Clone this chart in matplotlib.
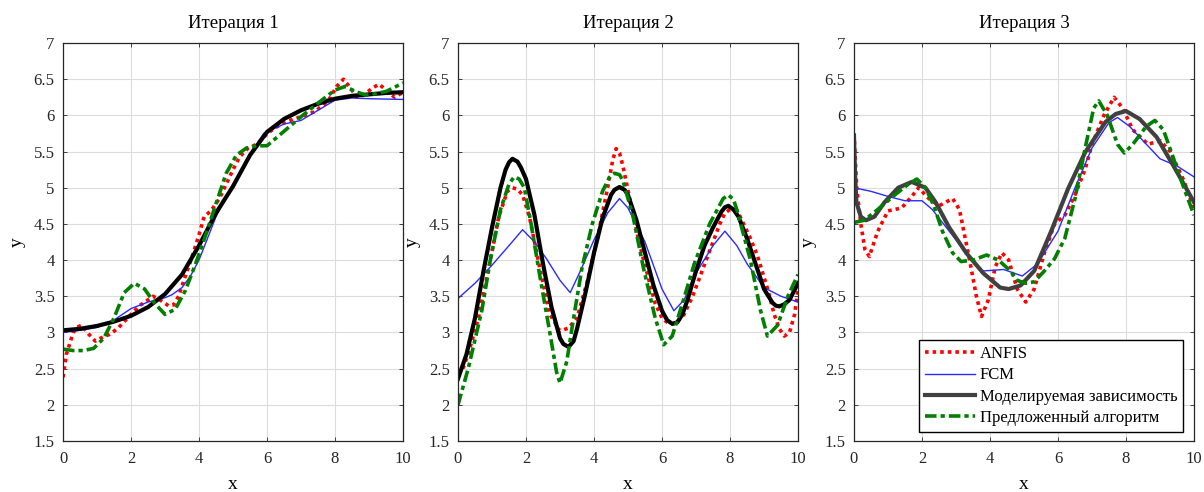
import numpy as np
import matplotlib
matplotlib.use("Agg")
import matplotlib.pyplot as plt

plt.rcParams['font.family'] = ['Liberation Serif', 'DejaVu Serif']

titles = ["Итерация 1", "Итерация 2", "Итерация 3"]
legend_labels = ["ANFIS", "FCM", "Моделируемая зависимость", "Предложенный алгоритм"]
y_ticks = [1.5, 2, 2.5, 3, 3.5, 4, 4.5, 5, 5.5, 6, 6.5, 7]
x_ticks = [0, 2, 4, 6, 8, 10]

# ---------- Iteration 1 ----------
p1_model_x = [0, 0.5, 1, 1.5, 2, 2.5, 3, 3.5, 4, 4.5, 5, 5.5, 6, 6.5, 7, 7.5, 8, 8.5, 9, 9.5, 10]
p1_model_y = [3.03, 3.05, 3.09, 3.15, 3.23, 3.35, 3.53, 3.80, 4.20, 4.65, 5.02, 5.45, 5.77, 5.95,
              6.07, 6.16, 6.23, 6.27, 6.29, 6.31, 6.32]

p1_fcm_x = [0, 0.5, 1, 1.4, 2, 2.5, 3, 3.2, 3.5, 3.75, 4, 4.25, 4.5, 5, 5.5, 5.9, 6.5, 7, 7.5,
            8, 8.5, 9, 10]
p1_fcm_y = [3.00, 3.03, 3.07, 3.14, 3.33, 3.42, 3.48, 3.52, 3.62, 3.78, 4.0, 4.3, 4.6, 5.05,
            5.45, 5.75, 5.88, 5.93, 6.07, 6.21, 6.24, 6.23, 6.22]

p1_anfis_x = [0, 0.1, 0.3, 0.45, 0.55, 0.75, 0.95, 1.1, 1.35, 1.6, 1.8, 2.0, 2.25, 2.5, 2.65,
              2.85, 3.1, 3.25, 3.4, 3.6, 3.8, 4.0, 4.15, 4.35, 4.6, 4.8, 5.0, 5.2, 5.45, 5.7,
              5.9, 6.2, 6.6, 7.0, 7.4, 7.8, 8.05, 8.25, 8.45, 8.65, 8.85, 9.1, 9.3, 9.5, 9.75, 10]
p1_anfis_y = [2.38, 2.70, 3.00, 3.08, 3.10, 2.98, 2.88, 2.92, 2.97, 3.05, 3.15, 3.25, 3.37, 3.45,
              3.50, 3.45, 3.37, 3.38, 3.50, 3.78, 4.05, 4.35, 4.60, 4.68, 4.85, 5.05, 5.25, 5.43,
              5.55, 5.60, 5.70, 5.82, 5.92, 5.98, 6.05, 6.20, 6.40, 6.50, 6.38, 6.25, 6.28, 6.38,
              6.43, 6.35, 6.25, 6.32]

p1_prop_x = [0, 0.3, 0.6, 0.9, 1.2, 1.5, 1.8, 2.1, 2.4, 2.7, 3.0, 3.3, 3.6, 3.9, 4.2, 4.5, 4.8,
             5.1, 5.4, 5.7, 6.0, 6.5, 7.0, 7.5, 8.0, 8.3, 8.6, 8.9, 9.2, 9.5, 9.8, 10]
p1_prop_y = [2.77, 2.75, 2.75, 2.78, 2.92, 3.20, 3.55, 3.68, 3.60, 3.40, 3.25, 3.32, 3.58, 3.95,
             4.35, 4.78, 5.20, 5.45, 5.55, 5.58, 5.58, 5.78, 5.98, 6.17, 6.35, 6.40, 6.33, 6.28,
             6.30, 6.33, 6.40, 6.45]

# ---------- Iteration 2 ----------
p2_model_x = [0, 0.25, 0.5, 0.75, 1, 1.25, 1.4, 1.5, 1.6, 1.75, 1.85, 2, 2.25, 2.5, 2.75, 3,
              3.1, 3.25, 3.4, 3.5, 3.75, 4, 4.25, 4.5, 4.6, 4.75, 4.9, 5, 5.25, 5.5, 5.75, 6,
              6.15, 6.3, 6.45, 6.6, 6.75, 7, 7.25, 7.5, 7.75, 7.85, 7.95, 8.1, 8.25, 8.5, 8.75,
              9, 9.25, 9.35, 9.45, 9.6, 9.75, 10]
p2_model_y = [2.36, 2.70, 3.20, 3.85, 4.45, 5.00, 5.25, 5.35, 5.40, 5.36, 5.28, 5.12, 4.62,
              3.95, 3.35, 2.92, 2.84, 2.80, 2.88, 3.05, 3.55, 4.10, 4.58, 4.90, 4.97, 5.01,
              4.97, 4.90, 4.55, 4.10, 3.65, 3.30, 3.17, 3.12, 3.14, 3.25, 3.45, 3.85, 4.20,
              4.45, 4.67, 4.73, 4.75, 4.70, 4.60, 4.30, 3.95, 3.60, 3.41, 3.37, 3.36, 3.39,
              3.45, 3.68]

p2_fcm_x = [0, 0.5, 1.0, 1.5, 1.9, 2.25, 2.6, 3.0, 3.3, 3.6, 4.0, 4.4, 4.75, 5.0, 5.5, 6.0,
            6.35, 6.65, 7.0, 7.5, 7.85, 8.2, 8.5, 9.0, 9.5, 10]
p2_fcm_y = [3.47, 3.68, 3.93, 4.20, 4.42, 4.25, 4.02, 3.72, 3.55, 3.85, 4.28, 4.65, 4.85, 4.72,
            4.25, 3.60, 3.30, 3.45, 3.82, 4.20, 4.40, 4.20, 3.95, 3.62, 3.50, 3.42]

p2_anfis_x = [0, 0.1, 0.3, 0.6, 0.95, 1.2, 1.45, 1.6, 1.75, 1.9, 2.1, 2.4, 2.7, 3.0, 3.25, 3.5,
              3.8, 4.1, 4.4, 4.55, 4.65, 4.75, 4.85, 5.05, 5.35, 5.6, 5.8, 6.0, 6.2, 6.4, 6.65,
              6.9, 7.3, 7.7, 7.85, 8.0, 8.15, 8.3, 8.6, 8.8, 9.1, 9.3, 9.45, 9.6, 9.75, 9.9, 10]
p2_anfis_y = [2.47, 2.45, 2.70, 3.20, 4.00, 4.60, 4.95, 5.00, 4.98, 4.90, 4.60, 3.90, 3.25,
              3.02, 3.06, 3.20, 3.70, 4.30, 5.00, 5.38, 5.54, 5.48, 5.30, 4.85, 4.20, 3.75, 3.40,
              3.20, 3.12, 3.12, 3.25, 3.50, 4.00, 4.50, 4.65, 4.70, 4.68, 4.60, 4.30, 4.07, 3.61,
              3.25, 3.05, 2.95, 3.00, 3.25, 3.60]

p2_prop_x = [0, 0.3, 0.7, 0.95, 1.25, 1.5, 1.65, 1.8, 1.95, 2.15, 2.4, 2.7, 2.9, 3.0, 3.2, 3.4,
             3.65, 3.95, 4.25, 4.45, 4.6, 4.75, 4.85, 5.15, 5.45, 5.8, 6.05, 6.3, 6.6, 6.95,
             7.4, 7.8, 7.95, 8.1, 8.2, 8.6, 8.9, 9.1, 9.4, 9.7, 10]
p2_prop_y = [2.00, 2.50, 3.30, 4.00, 4.70, 5.05, 5.15, 5.12, 5.00, 4.50, 3.80, 3.00, 2.45, 2.30,
             2.60, 3.20, 3.90, 4.50, 4.95, 5.14, 5.20, 5.18, 5.10, 4.60, 3.90, 3.20, 2.83, 2.95,
             3.40, 3.95, 4.50, 4.85, 4.90, 4.84, 4.70, 4.00, 3.30, 2.95, 3.10, 3.50, 3.80]

# ---------- Iteration 3 ----------
p3_model_x = [0, 0.03, 0.07, 0.2, 0.35, 0.6, 0.9, 1.3, 1.7, 2.1, 2.4, 2.8, 3.3, 3.8, 4.3, 4.55,
              4.9, 5.3, 5.8, 6.3, 6.8, 7.4, 7.7, 8.0, 8.4, 8.9, 9.4, 10]
p3_model_y = [5.72, 5.20, 4.80, 4.60, 4.55, 4.60, 4.80, 5.00, 5.08, 5.00, 4.80, 4.45, 4.10, 3.82,
              3.62, 3.60, 3.65, 3.85, 4.40, 4.99, 5.49, 5.91, 6.02, 6.06, 5.95, 5.70, 5.30, 4.80]

p3_fcm_x = [0, 0.5, 1.0, 1.5, 2.0, 2.3, 2.8, 3.3, 3.8, 4.4, 4.95, 5.4, 6.0, 6.5, 7.0, 7.5, 7.75,
            8.1, 8.6, 9.0, 9.5, 10]
p3_fcm_y = [5.00, 4.95, 4.88, 4.82, 4.82, 4.70, 4.40, 4.10, 3.85, 3.87, 3.78, 3.95, 4.40, 5.00,
            5.55, 5.90, 5.97, 5.85, 5.60, 5.40, 5.30, 5.15]

p3_anfis_x = [0, 0.08, 0.2, 0.32, 0.45, 0.7, 1.0, 1.4, 1.7, 1.9, 2.2, 2.5, 2.9, 3.1, 3.4, 3.6,
              3.75, 3.95, 4.15, 4.35, 4.55, 4.8, 5.05, 5.3, 5.6, 5.9, 6.2, 6.5, 6.8, 7.0, 7.35,
              7.65, 7.9, 8.2, 8.65, 9.0, 9.3, 9.7, 10]
p3_anfis_y = [5.75, 5.00, 4.50, 4.15, 4.05, 4.40, 4.68, 4.72, 4.88, 5.00, 4.85, 4.75, 4.85, 4.70,
              4.00, 3.50, 3.22, 3.45, 3.90, 4.10, 4.00, 3.60, 3.42, 3.60, 4.10, 4.50, 4.62, 4.90,
              5.26, 5.60, 6.00, 6.25, 6.10, 5.80, 5.60, 5.65, 5.50, 5.10, 4.70]

p3_prop_x = [0, 0.3, 0.7, 1.2, 1.6, 1.85, 2.1, 2.35, 2.6, 2.9, 3.15, 3.5, 3.9, 4.25, 4.6, 4.8,
             5.05, 5.3, 5.6, 5.9, 6.2, 6.5, 6.8, 7.05, 7.2, 7.45, 7.75, 7.95, 8.2, 8.6, 8.85,
             9.1, 9.4, 9.7, 10]
p3_prop_y = [4.52, 4.55, 4.70, 4.90, 5.05, 5.12, 5.00, 4.75, 4.40, 4.10, 3.98, 4.00, 4.07, 4.00,
             3.85, 3.72, 3.68, 3.70, 3.85, 4.02, 4.30, 4.85, 5.55, 6.10, 6.20, 6.00, 5.60, 5.48,
             5.60, 5.85, 5.93, 5.80, 5.40, 5.00, 4.62]

panels = [
    dict(anfis=(p1_anfis_x, p1_anfis_y), fcm=(p1_fcm_x, p1_fcm_y),
         model=(p1_model_x, p1_model_y), prop=(p1_prop_x, p1_prop_y), model_color="black"),
    dict(anfis=(p2_anfis_x, p2_anfis_y), fcm=(p2_fcm_x, p2_fcm_y),
         model=(p2_model_x, p2_model_y), prop=(p2_prop_x, p2_prop_y), model_color="black"),
    dict(anfis=(p3_anfis_x, p3_anfis_y), fcm=(p3_fcm_x, p3_fcm_y),
         model=(p3_model_x, p3_model_y), prop=(p3_prop_x, p3_prop_y), model_color="#404040"),
]

W, H = 1204, 492
fig = plt.figure(figsize=(W / 100, H / 100), dpi=100)
lefts = [63, 458, 854]
ax_w, ax_top, ax_bot = 340, 43, 441

for i, (left, p) in enumerate(zip(lefts, panels)):
    ax = fig.add_axes([left / W, (H - ax_bot) / H, ax_w / W, (ax_bot - ax_top) / H])
    ax.grid(True, color="#dcdcdc", linewidth=0.8)
    ax.set_axisbelow(True)
    ax.plot(*p["anfis"], color="#ff0000", linestyle=(0, (1.0, 1.1)), linewidth=2.6,
            label=legend_labels[0])
    ax.plot(*p["fcm"], color="#2a2aff", linestyle="-", linewidth=1.0, label=legend_labels[1])
    ax.plot(*p["model"], color=p["model_color"], linestyle="-", linewidth=3.0,
            solid_joinstyle="round", label=legend_labels[2])
    ax.plot(*p["prop"], color="#007f00", linestyle=(0, (3.2, 1.1, 1.2, 1.1)), linewidth=2.6,
            label=legend_labels[3])
    ax.set_xlim(0, 10)
    ax.set_ylim(1.5, 7)
    ax.set_xticks(x_ticks)
    ax.set_yticks(y_ticks)
    ax.set_yticklabels([f"{v:g}" for v in y_ticks])
    ax.tick_params(direction="in", length=3, width=0.6, labelsize=12, colors="#262626",
                   top=True, right=True)
    ax.tick_params(axis="x", pad=7)
    ax.tick_params(axis="y", pad=6)
    for s in ax.spines.values():
        s.set_linewidth(0.9)
        s.set_color("#262626")
    ax.set_title(titles[i], fontsize=13.5, pad=11)
    ax.set_xlabel("x", fontsize=14, labelpad=7)
    ax.set_ylabel("y", fontsize=14, labelpad=6)
    if i == 2:
        leg = ax.legend(loc="lower right", bbox_to_anchor=(0.968, 0.023), borderaxespad=0,
                        fontsize=12, frameon=True, fancybox=False, framealpha=1,
                        edgecolor="black", handlelength=3.0, handletextpad=0.3,
                        labelspacing=0.32, borderpad=0.35)
        leg.get_frame().set_linewidth(1.0)

fig.savefig("out.png", dpi=100)
